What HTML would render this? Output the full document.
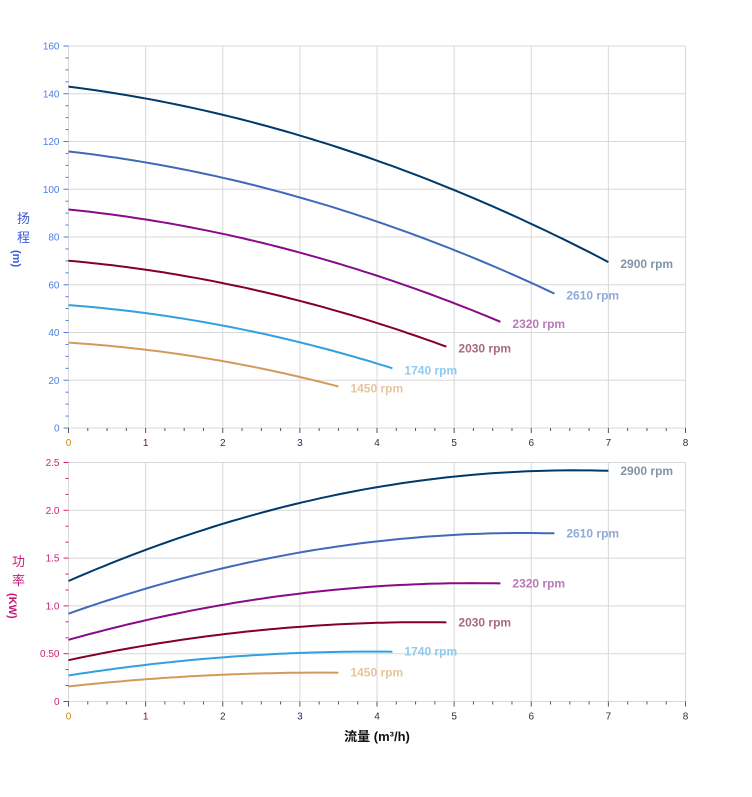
<!DOCTYPE html>
<html><head><meta charset="utf-8"><style>
body{margin:0;background:#fff;width:752px;height:797px;overflow:hidden}
svg{display:block;font-family:"Liberation Sans","Noto Sans CJK SC",sans-serif}
</style></head><body>
<svg id="s" width="752" height="797" xmlns="http://www.w3.org/2000/svg"></svg>
<script>
const s=document.getElementById('s');let h='';
const X0=68.5,XS=77.125;
const T0=428,TS=2.3875; // top
const B0=701.5,BS=95.6; // bottom
const xp=q=>X0+q*XS;
// grids
function grid(yTop,yBot,nMaj,vals,col,lab,minorN){
  for(let i=0;i<=8;i++)h+=`<line x1="${xp(i)}" y1="${yTop}" x2="${xp(i)}" y2="${yBot}" stroke="#d8d8d8"/>`;
  for(let j=0;j<vals.length;j++){const y=yBot-(yBot-yTop)*j/(vals.length-1);
    h+=`<line x1="${X0}" y1="${y}" x2="685.5" y2="${y}" stroke="#d8d8d8"/>`;
    h+=`<line x1="${X0-5}" y1="${y}" x2="${X0}" y2="${y}" stroke="${col}"/>`;
    h+=`<text x="${X0-9}" y="${y+3.5}" font-size="10" fill="${col}" text-anchor="end">${vals[j]}</text>`;
    if(j<vals.length-1){const st=(yBot-yTop)/(vals.length-1)/minorN;for(let k=1;k<minorN;k++)h+=`<line x1="${X0-3}" y1="${y-st*k}" x2="${X0}" y2="${y-st*k}" stroke="${col}"/>`;}
  }
  for(let i=0;i<=32;i++){const x=xp(i/4);h+=`<line x1="${x}" y1="${yBot}" x2="${x}" y2="${yBot+(i%4?3:5)}" stroke="#555"/>`;}
  const xc=['#c8860a','#7a0a4a','#333','#3a1a5a','#333','#333','#333','#333','#333'];
  for(let i=0;i<=8;i++)h+=`<text x="${xp(i)}" y="${yBot+18}" font-size="10" fill="${xc[i]}" text-anchor="middle">${i}</text>`;
}
grid(46,428,8,[0,20,40,60,80,100,120,140,160],'#4a7ee8','',4);
grid(462.5,701.5,5,['0','0.50','1.0','1.5','2.0','2.5'],'#d0207a','',3);
const sp=[[2900,'#003a6b','#7f95a8'],[2610,'#4169b8','#8faad8'],[2320,'#8a0a8a','#b87ab8'],[2030,'#850028','#a86a7a'],[1740,'#33a0e0','#8fcaf0'],[1450,'#d49a5a','#e8c49c']];
sp.forEach(([n,c,lc])=>{const r=n/2900,qm=7*r;let p='',q='';
  for(let i=0;i<=60;i++){const Q=qm*i/60;
    const H=143*r*r-4.08*r*Q-0.917*Q*Q;
    const P=1.26*r*r*r+0.353*r*r*Q-0.0269*r*Q*Q;
    p+=(i?'L':'M')+xp(Q).toFixed(1)+','+(T0-H*TS).toFixed(1);
    q+=(i?'L':'M')+xp(Q).toFixed(1)+','+(B0-P*BS).toFixed(1);}
  h+=`<path d="${p}" fill="none" stroke="${c}" stroke-width="2"/><path d="${q}" fill="none" stroke="${c}" stroke-width="2"/>`;
  const Hend=143*r*r-4.08*r*qm-0.917*qm*qm, Pend=1.26*r*r*r+0.353*r*r*qm-0.0269*r*qm*qm;
  h+=`<text x="${xp(qm)+12}" y="${T0-Hend*TS+6}" font-size="12" font-weight="bold" fill="${lc}">${n} rpm</text>`;
  h+=`<text x="${xp(qm)+12}" y="${B0-Pend*BS+4}" font-size="12" font-weight="bold" fill="${lc}">${n} rpm</text>`;
});
h+=`<text x="17" y="223" font-size="13" fill="#3a5ad8">扬</text><text x="17" y="242" font-size="13" fill="#3a5ad8">程</text>`;
h+=`<text transform="translate(13,250) rotate(90)" font-size="11" fill="#3a5ad8" font-weight="bold">(m)</text>`;
h+=`<text x="12" y="566" font-size="13" fill="#c81a7a">功</text><text x="12" y="585" font-size="13" fill="#c81a7a">率</text>`;
h+=`<text transform="translate(9,593) rotate(90)" font-size="11" fill="#c81a7a" font-weight="bold">(KW)</text>`;
h+=`<text x="377" y="741" font-size="13" font-weight="bold" fill="#111" text-anchor="middle">流量 (m³/h)</text>`;
s.innerHTML=h;
</script>
</body></html>
